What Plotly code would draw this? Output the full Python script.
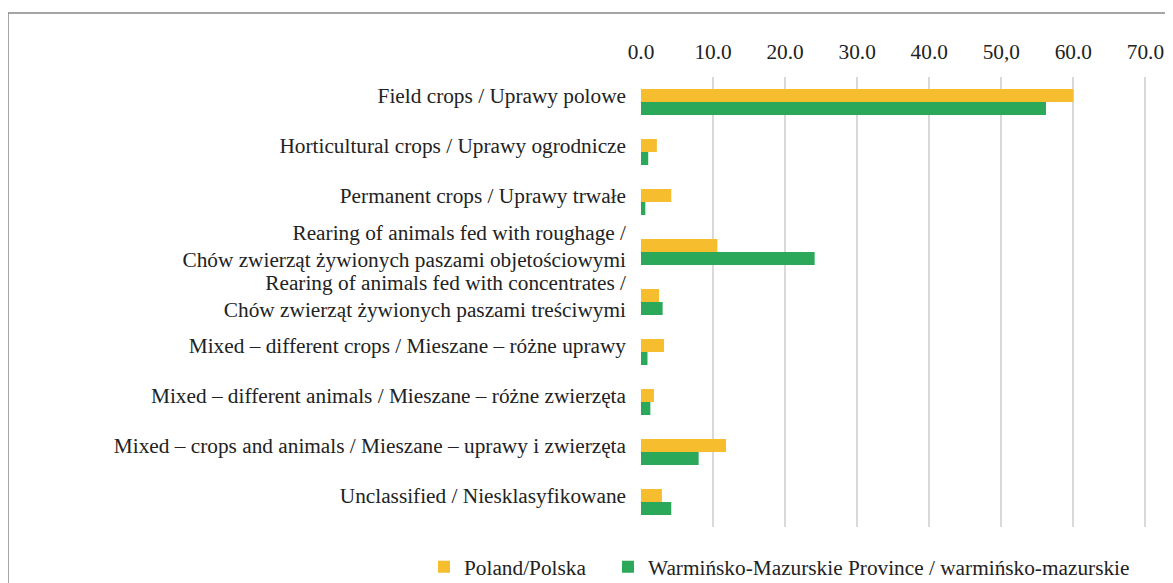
import plotly.graph_objects as go

categories = [
    "Field crops / Uprawy polowe",
    "Horticultural crops / Uprawy ogrodnicze",
    "Permanent crops / Uprawy trwałe",
    "Rearing of animals fed with roughage /<br>Chów zwierząt żywionych paszami objetościowymi",
    "Rearing of animals fed with concentrates /<br>Chów zwierząt żywionych paszami treściwymi",
    "Mixed – different crops / Mieszane – różne uprawy",
    "Mixed – different animals / Mieszane – różne zwierzęta",
    "Mixed – crops and animals / Mieszane – uprawy i zwierzęta",
    "Unclassified / Niesklasyfikowane",
]
poland = [60.0, 2.2, 4.2, 10.6, 2.5, 3.2, 1.8, 11.8, 2.9]
warminsko = [56.2, 1.0, 0.6, 24.1, 3.0, 0.9, 1.3, 8.0, 4.2]
tick_vals = [0, 10, 20, 30, 40, 50, 60, 70]
tick_text = ["0.0", "10.0", "20.0", "30.0", "40.0", "50,0", "60.0", "70.0"]

FONT = "Liberation Serif"
FS = 21.3
TXT = "#222222"

# page has an 8px body margin; figure coordinates = page coordinates - 8
W, H = 1165, 575
L, T = 633, 69
pw, ph = 508, 450
R = W - L - pw
B = H - T - ph


def px2x(px):  # page px -> paper x
    return (px - 8 - L) / pw


def py2y(py):  # page py -> paper y
    return (H - B - (py - 8)) / ph


fig = go.Figure()
fig.add_trace(go.Bar(y=categories, x=poland, orientation="h", name="Poland/Polska",
                     marker=dict(color="#F6BD2E", line=dict(width=0)), legend="legend"))
fig.add_trace(go.Bar(y=categories, x=warminsko, orientation="h",
                     name="Warmińsko-Mazurskie Province / warmińsko-mazurskie",
                     marker=dict(color="#2BA85A", line=dict(width=0)), legend="legend2"))

leg_common = dict(orientation="h", xanchor="left", yanchor="middle",
                  font=dict(family=FONT, size=FS, color=TXT),
                  bgcolor="rgba(0,0,0,0)", itemwidth=30)

fig.update_layout(
    width=W, height=H,
    margin=dict(l=L, r=R, t=T, b=B, autoexpand=False),
    paper_bgcolor="white", plot_bgcolor="white",
    barmode="group", bargap=0.48, bargroupgap=0,
    font=dict(family=FONT, size=FS, color=TXT),
    xaxis=dict(side="top", range=[0, 70.5], tickvals=tick_vals, ticktext=tick_text,
               showgrid=True, gridcolor="#D9D9D9", gridwidth=1.5, zeroline=False,
               showline=False, ticks="", ticklabelstandoff=13,
               tickfont=dict(family=FONT, size=FS, color=TXT), fixedrange=True),
    yaxis=dict(autorange="reversed", showgrid=False, showline=False, ticks="",
               ticklabelstandoff=14, ticklabelshift=6,
               tickfont=dict(family=FONT, size=FS, color=TXT), fixedrange=True),
    legend=dict(x=px2x(424), y=py2y(567), **leg_common),
    legend2=dict(x=px2x(608), y=py2y(567), **leg_common),
    showlegend=True,
    shapes=[dict(type="rect", xref="paper", yref="paper",
                 x0=px2x(8), x1=px2x(1200), y0=py2y(620), y1=py2y(13),
                 line=dict(color="#888888", width=1.5), fillcolor="rgba(0,0,0,0)", layer="below")],
)

fig.write_html("out.html")
